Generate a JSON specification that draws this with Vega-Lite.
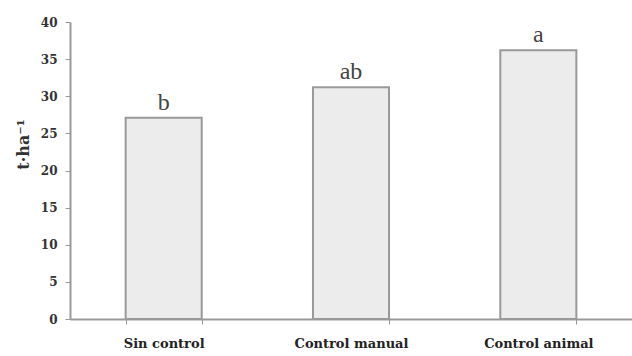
{
  "$schema": "https://vega.github.io/schema/vega-lite/v6.json",
  "width": 562,
  "height": 297,
  "autosize": "none",
  "padding": {"left": 70, "top": 22, "right": 0, "bottom": 37},
  "background": "white",
  "config": {"view": {"stroke": null}},
  "data": {"values": [
    {"trat": "Sin control", "valor": 27.1, "letra": "b"},
    {"trat": "Control manual", "valor": 31.2, "letra": "ab"},
    {"trat": "Control animal", "valor": 36.2, "letra": "a"}
  ]},
  "encoding": {
    "x": {"field": "trat", "type": "nominal", "sort": null,
      "scale": {"paddingInner": 0.594, "paddingOuter": 0.297},
      "axis": {"title": null, "labelAngle": 0, "labelFont": "DejaVu Serif", "labelFontWeight": "bold", "labelFontSize": 13, "labelColor": "#222", "labelPadding": 13, "tickBand": "extent", "tickSize": 5, "tickColor": "#999", "domainColor": "#999", "domainWidth": 2, "grid": false}},
    "y": {"field": "valor", "type": "quantitative",
      "scale": {"domain": [0, 40], "nice": false},
      "axis": {"title": "t·ha⁻¹", "titleFont": "DejaVu Serif", "titleFontSize": 16, "titleFontWeight": "bold", "titleColor": "#333", "titlePadding": 9, "titleY": 122, "values": [0,5,10,15,20,25,30,35,40], "labelFont": "DejaVu Serif", "labelFontWeight": "bold", "labelFontSize": 12, "labelColor": "#333", "labelPadding": 8, "tickSize": 5, "tickColor": "#999", "domainColor": "#999", "domainWidth": 2, "grid": false}}
  },
  "layer": [
    {"mark": {"type": "bar", "fill": "#ececec", "stroke": "#999", "strokeWidth": 2}},
    {"mark": {"type": "text", "font": "Liberation Serif", "fontSize": 24, "baseline": "alphabetic", "dy": -8, "color": "#444"},
     "encoding": {"text": {"field": "letra"}}}
  ]
}
